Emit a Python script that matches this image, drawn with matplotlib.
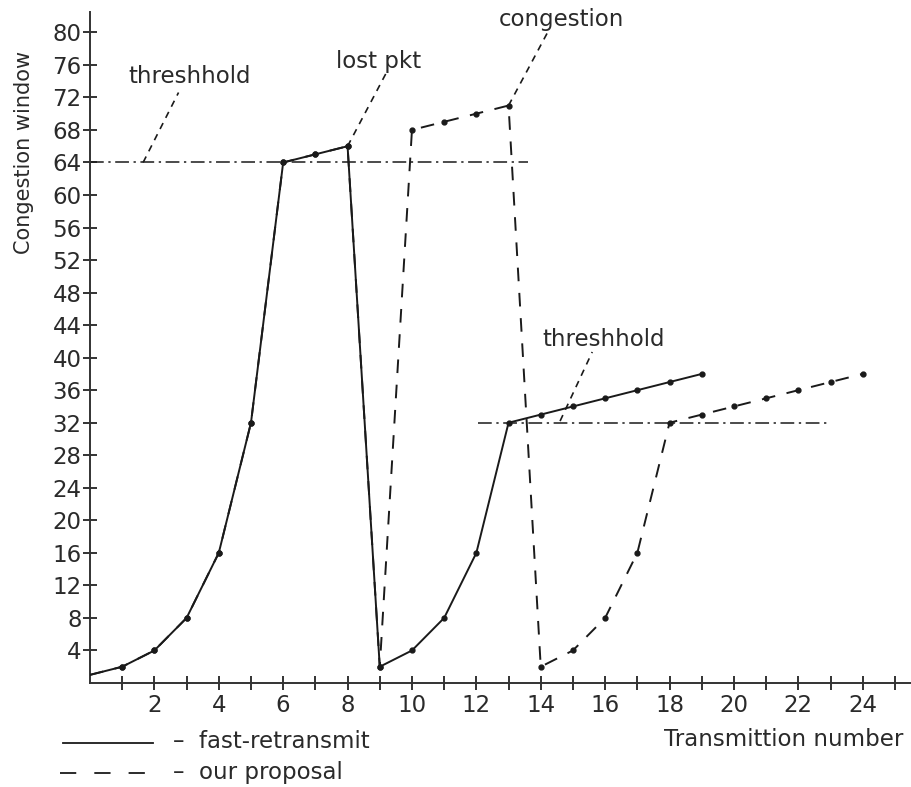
import matplotlib
matplotlib.use("Agg")
import matplotlib.pyplot as plt
from matplotlib.lines import Line2D

# Congestion window per transmission round
fast_x = [0, 1, 2, 3, 4, 5, 6, 7, 8, 9, 10, 11, 12, 13, 14, 15, 16, 17, 18, 19]
fast_cwnd = [1, 2, 4, 8, 16, 32, 64, 65, 66, 2, 4, 8, 16, 32, 33, 34, 35, 36, 37, 38]

prop_x = [0, 1, 2, 3, 4, 5, 6, 7, 8, 9, 10, 11, 12, 13, 14, 15, 16, 17, 18, 19,
          20, 21, 22, 23, 24]
prop_cwnd = [1, 2, 4, 8, 16, 32, 64, 65, 66, 2, 68, 69, 70, 71, 2, 4, 8, 16, 32,
             33, 34, 35, 36, 37, 38]

# Slow-start thresholds: (value, x start, x end)
thresh_hi = (64, 0.0, 13.6)
thresh_lo = (32, 12.05, 22.9)

x_ticks_major = [2, 4, 6, 8, 10, 12, 14, 16, 18, 20, 22, 24]
y_ticks = [4, 8, 12, 16, 20, 24, 28, 32, 36, 40, 44, 48, 52, 56, 60, 64, 68, 72,
           76, 80]

INK = "#1a1a1a"
TXT = "#2a2a2a"
FS = 16.5

fig = plt.figure(figsize=(9.11, 7.87), dpi=100)
ax = fig.add_axes([90 / 911, 104 / 787, 821 / 911, 671 / 787])
ax.set_xlim(0, 25.5)
ax.set_ylim(0, 82.5)

for s in ("top", "right"):
    ax.spines[s].set_visible(False)
for s in ("left", "bottom"):
    ax.spines[s].set_linewidth(1.4)
    ax.spines[s].set_color("#333333")

ax.set_xticks(range(1, 26), minor=True)
ax.set_xticks(x_ticks_major)
ax.set_yticks(y_ticks)
ax.tick_params(axis="both", direction="inout", length=10, width=1.4,
               color="#333333", labelsize=FS, labelcolor=TXT)
ax.tick_params(axis="x", which="minor", direction="inout", length=10, width=1.4,
               color="#333333")
ax.tick_params(axis="x", pad=3)
ax.tick_params(axis="y", pad=1)

# Threshold lines
for val, x0, x1 in (thresh_hi, thresh_lo):
    ax.plot([x0, x1], [val, val], color=INK, lw=1.1,
            dashes=(9, 3, 1.5, 3), zorder=2)

# Curves
ax.plot(prop_x, prop_cwnd, color=INK, lw=1.4, dashes=(7, 6),
        marker="o", markersize=3.5, markevery=list(range(1, len(prop_x))),
        zorder=3)
ax.plot(fast_x, fast_cwnd, color=INK, lw=1.4,
        marker="o", markersize=3.5, markevery=list(range(1, len(fast_x))),
        zorder=4)

# Annotations with dashed leader lines
def note(text, xy, xytext, tx, ty):
    ax.plot([xy[0], xytext[0]], [xy[1], xytext[1]], color=INK, lw=1.2,
            dashes=(4, 3.5), zorder=2)
    ax.text(tx, ty, text, fontsize=FS, color=TXT, ha="center", va="center")

note("threshhold", (1.65, 64), (2.75, 72.6), 3.1, 74.6)
note("lost pkt", (8.0, 66), (9.2, 75.0), 8.95, 76.4)
note("congestion", (13.0, 71), (14.2, 79.9), 14.65, 81.6)
note("threshhold", (14.6, 32.2), (15.6, 40.7), 15.95, 42.2)

ax.set_ylabel("Congestion window", fontsize=15, color=TXT)
ax.yaxis.set_label_coords(-(90 - 34) / 821, (683 - 152) / 671)
fig.text(903 / 911, 1 - 739 / 787, "Transmittion number", fontsize=FS,
         color=TXT, ha="right", va="center")

# Legend drawn below the axis
fig.add_artist(Line2D([63 / 911, 153 / 911], [1 - 743 / 787, 1 - 743 / 787],
                      color=INK, lw=1.3))
fig.add_artist(Line2D([60 / 911, 152 / 911], [1 - 773 / 787, 1 - 773 / 787],
                      color=INK, lw=1.3, dashes=(9, 10)))
fig.text(173 / 911, 1 - 742 / 787, "–  fast-retransmit", fontsize=FS,
         color=TXT, ha="left", va="center")
fig.text(173 / 911, 1 - 772 / 787, "–  our proposal", fontsize=FS,
         color=TXT, ha="left", va="center")

fig.savefig("out.png", dpi=100)
